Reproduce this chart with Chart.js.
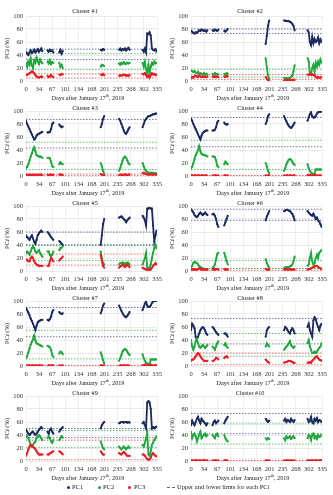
<!DOCTYPE html>
<html><head><meta charset="utf-8">
<script src="https://cdn.jsdelivr.net/npm/chart.js@4"></script>
<style>
html,body{margin:0;padding:0;background:#fff;}
#wrap{position:relative;width:333px;height:495px;overflow:hidden;background:#fff;font-family:"Liberation Serif",serif;color:#222;}
.panel{position:absolute;width:166px;height:101px;}
.lg{position:absolute;font-size:6.5px;line-height:8px;white-space:nowrap;}
.dot{position:absolute;width:3px;height:3px;border-radius:50%;}
</style></head><body>
<div id="wrap"></div>
<script>
// ---- shared axes ----
const segDays = [
  [0,3,6,9,12,15,18,21,24,27,30,33,36,39,42],
  [55,58,61,64,67,70],
  [85,88,91,94],
  [191,194,197,200],
  [238,241,244,247,250,253,256,259,262,265],
  [298,301,304,307,310,313,316,319,322,325,328,331,334]
];
const xTickPos = [0,33.5,67,100.5,134,167.5,201,234.5,268,301.5,335];
const xTickLabels = ['0','34','67','101','134','168','201','235','268','302','335'];
const yTickStep = 10;
const clusterNames = ['Cluster #1','Cluster #2','Cluster #3','Cluster #4','Cluster #5','Cluster #6','Cluster #7','Cluster #8','Cluster #9','Cluster #10'];
const seriesNames = ['PC1','PC2','PC3'];

// ---- cluster 1 ----
const c1PC1 = [[45,42,40,44,47,43,45,48,44,46,49,45,47,50,46],[47,45,48,46,47,44],[44,48,42,46],[48,47,49,48],[48,50,47,49,48,50,47,49,51,48],[48,45,50,44,73,72,75,70,50,48,47,49,45]];
const c1PC2 = [[28,22,30,25,35,24,20,32,28,36,30,26,33,29,27],[30,27,32,26,29,28],[28,22,25,20],[22,25,24,23],[27,25,28,26,29,27,26,28,27,28],[28,22,30,18,12,25,10,22,28,25,30,27,28]];
const c1PC3 = [[10,9,11,12,13,15,14,12,9,7,6,5,6,7,6],[8,6,7,9,7,6],[10,9,11,10],[10,9,11,9],[8,9,8,9,10,9,8,9,8,9],[11,10,12,9,6,8,5,9,12,10,11,9,10]];
const c1Lim = [[49,33],[42,17.5],[11,4.5]];
// ---- cluster 2 ----
const c2PC1 = [[77,76,74,73,75,74,76,78,77,79,78,77,78,76,78],[78,77,79,78,77,79],[77,76,78,80],[57,70,85,93],[93,93,92,92,92,91,90,88,85,78],[78,75,60,55,68,58,65,60,62,67,58,64,60]];
const c2PC2 = [[16,15,14,15,13,12,14,11,12,11,10,12,10,11,10],[11,10,12,10,11,10],[11,10,12,11],[35,20,8,3],[5,4,4,4,4,5,6,8,15,24],[35,30,12,10,20,25,15,28,22,30,25,33,28]];
const c2PC3 = [[5,6,5,7,8,7,6,8,7,6,7,6,7,6,7],[7,6,7,6,7,6],[7,6,8,7],[6,3,1,1],[1,1,2,1,1,2,1,2,1,2],[10,9,11,10,10,9,10,6,5,6,5,5,6]];
const c2Lim = [[80,73],[18,6],[10,2.5]];
// ---- cluster 3 ----
const c3PC1 = [[85,80,76,72,68,64,60,56,58,62,64,65,66,67,68],[67,67,68,72,80,82],[79,77,75,76],[75,80,88,92],[88,85,80,75,70,66,65,68,72,75],[75,80,85,88,90,92,92,93,94,95,95,96,96]];
const c3PC2 = [[12,14,18,24,30,35,40,44,38,32,31,30,30,29,28],[28,28,27,22,15,14],[18,21,19,18],[20,15,8,3],[8,12,18,24,28,30,28,24,20,18],[20,15,10,8,6,5,5,5,5,5,4,4,4]];
const c3PC3 = [[2,2,1,2,2,1,2,2,1,2,2,1,2,2,1],[2,1,2,2,1,2],[2,2,2,1],[3,2,1,1],[1,2,2,1,2,2,2,1,2,2],[4,5,4,3,3,2,2,3,2,2,3,2,2]];
const c3Lim = [[87,43],[52,10],[3,0.5]];
// ---- cluster 4 ----
const c4PC1 = [[88,85,80,76,72,68,64,60,56,62,66,68,69,70,70],[70,70,71,75,82,85],[82,80,79,80],[80,85,92,95],[92,88,84,80,77,75,74,76,79,82],[85,90,95,98,92,90,90,92,96,98,99,99,99]];
const c4PC2 = [[12,14,20,26,32,36,40,46,38,34,33,32,32,31,30],[30,30,29,24,16,14],[18,22,20,18],[20,15,8,4],[8,12,18,22,25,26,25,22,19,17],[18,12,8,5,4,3,3,10,10,10,10,10,10]];
const c4PC3 = [[1,1,0,1,1,0,1,1,0,1,1,0,1,1,0],[1,0,1,1,0,1],[1,1,0,1],[1,0,1,1],[1,0,1,1,0,1,1,0,1,1],[1,2,1,1,0,1,2,1,1,0,1,1,0]];
const c4Lim = [[90,45],[55,10],[1,0]];
// ---- cluster 5 ----
const c5PC1 = [[55,52,50,48,52,55,50,45,42,48,55,58,60,62,60],[60,58,55,52,50,48],[46,44,42,40],[40,55,72,80],[82,83,84,82,80,78,75,78,80,82],[85,82,78,70,96,96,97,96,96,70,45,55,62]];
const c5PC2 = [[28,30,28,25,30,35,38,35,30,28,30,32,28,25,22],[30,30,25,22,25,30],[32,35,36,38],[30,20,12,10],[10,12,12,13,12,10,12,13,12,10],[10,15,20,28,5,5,5,10,20,28,35,40,35]];
const c5PC3 = [[18,17,15,15,20,22,20,15,12,10,9,8,8,8,8],[8,8,15,20,18,15],[16,18,20,22],[25,15,8,5],[5,7,8,10,8,6,8,10,8,6],[5,4,3,2,2,2,2,2,5,8,10,12,10]];
const c5Lim = [[60,40.5],[39,16],[26,9]];
// ---- cluster 6 ----
const c6PC1 = [[95,93,90,86,84,83,85,88,90,88,86,88,90,88,86],[87,88,85,80,72,68],[70,75,80,85],[78,84,88,92],[92,93,94,94,93,92,90,88,84,78],[92,90,88,86,85,88,84,80,82,78,76,72,68]];
const c6PC2 = [[5,8,12,14,13,12,10,8,6,5,4,3,3,3,3],[5,6,10,18,26,28],[28,22,15,10],[18,12,8,5],[5,5,6,6,6,7,8,10,15,22],[8,10,20,28,15,10,12,20,25,20,28,30,32]];
const c6PC3 = [[2,3,2,3,2,2,3,4,3,2,3,2,3,2,2],[2,3,2,3,3,2],[3,2,3,2],[3,2,2,2],[2,2,3,2,2,3,2,2,3,2],[2,3,3,4,5,6,7,8,8,6,5,4,3]];
const c6Lim = [[95,78],[16,3.5],[4,0.5]];
// ---- cluster 7 ----
const c7PC1 = [[89,86,82,78,73,69,65,60,55,62,67,69,70,71,71],[71,70,72,76,83,86],[83,81,80,81],[81,86,93,96],[93,89,85,81,78,76,75,77,80,83],[86,91,96,99,93,91,91,93,97,99,100,100,100]];
const c7PC2 = [[12,15,21,27,33,37,41,47,39,35,34,33,32,31,30],[31,30,29,25,17,14],[19,22,21,18],[21,16,9,4],[8,12,17,22,25,26,25,22,19,17],[18,12,8,5,4,3,3,10,10,10,10,10,10]];
const c7PC3 = [[1,0,1,1,0,1,1,0,1,1,0,1,1,0,1],[0,1,1,0,1,1],[1,0,1,1],[1,1,0,1],[0,1,1,0,1,1,0,1,1,0],[1,1,2,1,0,1,1,2,1,0,1,1,1]];
const c7Lim = [[90,45],[55,11],[1,0]];
// ---- cluster 8 ----
const c8PC1 = [[55,65,62,58,45,40,45,50,55,58,60,58,55,50,48],[60,58,55,52,50,48],[50,50,48,45],[45,55,58,60],[55,60,58,55,52,50,55,58,55,50],[60,65,55,50,45,70,75,72,65,60,55,62,65]];
const c8PC2 = [[40,30,25,30,38,42,35,30,28,30,32,30,28,30,32],[30,28,25,30,35,38],[32,35,30,28],[30,35,32,30],[25,28,30,32,35,38,32,30,28,30],[35,40,30,25,20,20,22,20,22,25,28,30,35]];
const c8PC3 = [[8,10,10,12,15,18,20,18,15,12,10,8,8,8,8],[8,8,10,12,12,10],[12,14,15,13],[10,8,6,5],[5,6,6,7,8,8,7,6,5,5],[5,5,6,5,8,10,12,14,15,12,10,9,8]];
const c8Lim = [[73,34],[50,15],[20,2]];
// ---- cluster 9 ----
const c9PC1 = [[48,45,42,40,42,44,45,42,40,42,45,48,50,52,50],[45,42,48,50,45,42],[45,48,50,52],[50,55,58,60],[58,59,60,60,59,60,60,59,60,59],[58,60,55,50,90,92,90,80,50,52,50,52,53]];
const c9PC2 = [[40,38,35,30,25,22,25,28,30,35,38,40,38,35,32],[35,38,35,30,28,32],[32,35,38,36],[30,25,20,18],[22,20,18,20,22,20,18,20,22,20],[25,22,28,35,42,10,8,15,25,28,32,35,38]];
const c9PC3 = [[8,12,18,22,25,24,22,20,18,15,12,10,10,10,10],[10,10,12,12,14,15],[15,14,12,10],[15,12,10,10],[12,11,10,12,14,12,10,8,8,8],[10,10,8,5,3,2,2,5,10,12,10,8,7]];
const c9Lim = [[50,36],[47,21],[32,2]];
// ---- cluster 10 ----
const c10PC1 = [[55,62,58,55,60,65,68,62,58,65,62,60,58,55,58],[55,60,62,58,60,62],[58,62,65,68],[65,62,60,62],[62,65,60,63,62,60,65,62,60,63],[65,60,62,68,60,58,65,62,66,60,63,62,60]];
const c10PC2 = [[45,35,40,42,38,30,35,40,45,35,38,40,42,38,40],[40,38,35,40,42,38],[40,35,32,30],[35,33,35,34],[35,32,38,35,36,38,34,36,38,35],[35,40,38,32,40,42,35,38,34,40,37,38,40]];
const c10PC3 = [[1,1,0,1,1,1,0,1,1,0,1,1,1,0,1],[1,0,1,1,0,1],[1,1,1,0],[1,1,0,1],[1,0,1,1,1,0,1,1,0,1],[1,1,0,1,1,1,0,1,1,0,1,1,1]];
const c10Lim = [[73,42],[57,26],[1,0]];

const clusters = [
  [c1PC1,c1PC2,c1PC3,c1Lim],[c2PC1,c2PC2,c2PC3,c2Lim],
  [c3PC1,c3PC2,c3PC3,c3Lim],[c4PC1,c4PC2,c4PC3,c4Lim],
  [c5PC1,c5PC2,c5PC3,c5Lim],[c6PC1,c6PC2,c6PC3,c6Lim],
  [c7PC1,c7PC2,c7PC3,c7Lim],[c8PC1,c8PC2,c8PC3,c8Lim],
  [c9PC1,c9PC2,c9PC3,c9Lim],[c10PC1,c10PC2,c10PC3,c10Lim]
];

const colors = ['#1c2b5e','#1fa83c','#ee1c24'];
const limColors = ['rgba(40,55,120,0.75)','rgba(30,170,60,0.8)','rgba(238,28,36,0.7)'];
const FONT = '"Liberation Serif", serif';

function toPoints(series){
  const pts = [];
  series.forEach((seg, s) => {
    if (s > 0) pts.push({x: segDays[s][0] - 1, y: null});
    seg.forEach((v, i) => pts.push({x: segDays[s][i], y: v}));
  });
  return pts;
}

function drawRuns(ctx, runs, cx, cy){
  let total = 0;
  runs.forEach(r => { ctx.font = r.font; r.w = ctx.measureText(r.t).width; total += r.w; });
  let x = cx - total/2;
  ctx.textAlign = 'left';
  runs.forEach(r => { ctx.font = r.font; ctx.fillText(r.t, x, cy + (r.dy||0)); x += r.w; });
}

const wrap = document.getElementById('wrap');
clusters.forEach((cl, k) => {
  const col = k % 2, row = Math.floor(k / 2);
  const div = document.createElement('div');
  div.className = 'panel';
  div.style.left = (col * 165) + 'px';
  div.style.top = (row * 95) + 'px';
  const cv = document.createElement('canvas');
  cv.width = 166; cv.height = 101;
  cv.style.width = '166px'; cv.style.height = '101px';
  div.appendChild(cv);
  wrap.appendChild(div);

  const datasets = [];
  cl[3].forEach((lim, p) => {
    lim.forEach(v => datasets.push({
      data: [{x:0,y:v},{x:335,y:v}], borderColor: limColors[p], borderWidth: 0.9,
      borderDash: [1.5,1.5], pointRadius: 0, fill: false, order: 3
    }));
  });
  for (let p = 0; p < 3; p++) {
    datasets.push({
      label: seriesNames[p], data: toPoints(cl[p]), borderColor: colors[p], backgroundColor: colors[p],
      borderWidth: 1.8, pointRadius: 1.1, pointBorderWidth: 0, spanGaps: false, tension: 0,
      fill: false, order: 2 - p * 0.1
    });
  }
  const titleY = row === 0 ? 11 : 13.3;
  const textPlugin = {
    id: 'panelText',
    afterDraw(chart){
      const {ctx, chartArea} = chart;
      ctx.save();
      ctx.fillStyle = '#222';
      ctx.textBaseline = 'middle';
      drawRuns(ctx, [{t: clusterNames[k], font: '6.2px ' + FONT}], 85, titleY);
      drawRuns(ctx, [
        {t:'Days after January 17', font:'6.2px ' + FONT},
        {t:'th', font:'4.2px ' + FONT, dy:-1.8},
        {t:', 2019', font:'6.2px ' + FONT}
      ], 88, 98);
      ctx.translate(7, (chartArea.top + chartArea.bottom)/2);
      ctx.rotate(-Math.PI/2);
      drawRuns(ctx, [
        {t:'PC', font:'6.5px ' + FONT},
        {t:'i', font:'italic 6.5px ' + FONT},
        {t:' (%)', font:'6.5px ' + FONT}
      ], 0, 0);
      ctx.restore();
    }
  };
  new Chart(cv, {
    type: 'line',
    data: {datasets},
    options: {
      responsive: false, animation: false, events: [],
      layout: {padding: {top: 16, right: 9, left: 0, bottom: 0}},
      plugins: {legend: {display: false}, tooltip: {enabled: false}},
      scales: {
        x: {
          type: 'linear', min: 0, max: 335,
          afterBuildTicks: s => { s.ticks = xTickPos.map(v => ({value: v})); },
          afterFit: s => { s.height = 20; },
          ticks: {autoSkip: false, maxRotation: 0, padding: 4, color: '#333',
            font: {family: FONT, size: 6.5}, callback: (v, i) => xTickLabels[i]},
          grid: {color: '#ececec', lineWidth: 0.8, drawTicks: false},
          border: {display: false}
        },
        y: {
          min: 0, max: 100,
          afterFit: s => { s.width = 26; },
          ticks: {stepSize: yTickStep, padding: 3, color: '#333', font: {family: FONT, size: 6.5}},
          grid: {color: '#e6e6e6', lineWidth: 0.8, drawTicks: false},
          border: {display: false}
        }
      }
    },
    plugins: [textPlugin]
  });
});

// ---- legend ----
function addDot(x, y, c){
  const d = document.createElement('div'); d.className = 'dot';
  d.style.left = (x - 1.5) + 'px'; d.style.top = (y - 1.5) + 'px'; d.style.background = c;
  wrap.appendChild(d);
}
function addText(x, y, html){
  const t = document.createElement('div'); t.className = 'lg';
  t.style.left = x + 'px'; t.style.top = (y - 4) + 'px'; t.innerHTML = html;
  wrap.appendChild(t);
}
const legendY = 487;
const legendX = [[68,72],[99,103],[129,134]];
seriesNames.forEach((n, i) => { addDot(legendX[i][0], legendY, colors[i]); addText(legendX[i][1], legendY, n); });
const dash = document.createElement('div');
dash.style.cssText = 'position:absolute;left:167px;top:' + legendY + 'px;width:8px;border-top:1px dashed #666;';
wrap.appendChild(dash);
addText(177, legendY, 'Upper and lower limts for each PC<i>i</i>');
</script>
</body></html>
